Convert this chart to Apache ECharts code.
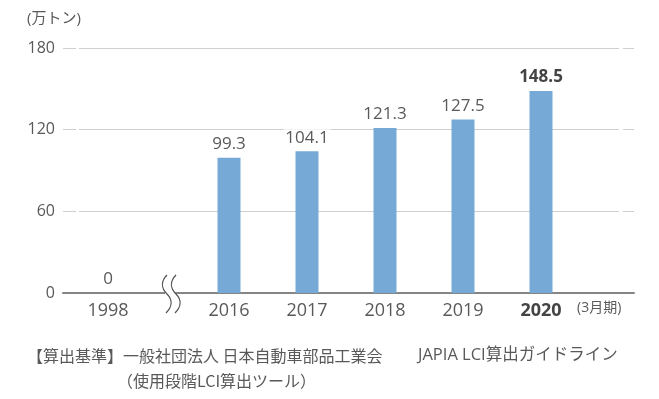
<!DOCTYPE html>
<html>
<head>
<meta charset="utf-8">
<script src="https://cdn.jsdelivr.net/npm/echarts@6/dist/echarts.min.js"></script>
<style>
  html, body { margin: 0; padding: 0; background: #fff; }
  #chart { width: 659px; height: 399px; }
</style>
</head>
<body>
<div id="chart"></div>
<script>
// Reference year (shown before the axis break)
const baseYears = ['1998'];
const baseValues = [0];
// Recent fiscal years
const years = ['2016', '2017', '2018', '2019', '2020'];
const values = [99.3, 104.1, 121.3, 127.5, 148.5];
const highlightYear = '2020';
// Value axis
const yMin = 0, yMax = 180, yStep = 60;
const unitLabel = '(万トン)';
const periodLabel = '(3月期)';
const noteSource = '【算出基準】一般社団法人 日本自動車部品工業会';
const noteGuide = 'JAPIA LCI算出ガイドライン';
const noteTool = '（使用段階LCI算出ツール）';

const FONT = '"Open Sans", "Noto Sans CJK JP", sans-serif';
const JFONT = '"Noto Sans CJK JP", sans-serif';
const TEXT = '#595959';
const STRONG = '#444';
const BAR = '#76a9d6';

const chart = echarts.init(document.getElementById('chart'), null, { renderer: 'canvas' });

const gridTop = 48, gridBottom = 106;
const hiddenY = (gi) => ({
  gridIndex: gi, type: 'value', min: yMin, max: yMax, interval: yStep,
  show: false
});
const labelStyle = {
  show: true, position: 'top', distance: 5, color: TEXT, fontSize: 17,
  fontFamily: FONT, backgroundColor: '#fff', padding: [0, 2]
};
const toItems = (cats, vals) => vals.map((v, i) => cats[i] === highlightYear
  ? { value: v, label: { fontWeight: 'bold', color: STRONG } }
  : v);
const toCats = (cats) => cats.map(c => c === highlightYear
  ? { value: c, textStyle: { fontWeight: 'bold', color: STRONG } }
  : c);
const catAxis = (gi, cats) => ({
  gridIndex: gi, type: 'category', data: toCats(cats),
  axisLine: { show: false }, axisTick: { show: false },
  axisLabel: { color: TEXT, fontSize: 18, fontFamily: FONT, margin: 9 }
});

// One wavy stroke of the axis-break symbol, starting at (x, y)
const breakStroke = (x, y) => ([
  {
    type: 'bezierCurve', z: 11,
    shape: { x1: x, y1: y, cpx1: x - 6, cpy1: y + 6, cpx2: x - 6, cpy2: y + 13, x2: x, y2: y + 19 },
    style: { stroke: '#555', lineWidth: 1.3, fill: null }
  },
  {
    type: 'bezierCurve', z: 11,
    shape: { x1: x, y1: y + 19, cpx1: x + 6, cpy1: y + 25, cpx2: x + 5, cpy2: y + 32, x2: x - 1, y2: y + 38 },
    style: { stroke: '#555', lineWidth: 1.3, fill: null }
  }
]);

chart.setOption({
  animation: false,
  grid: [
    { left: 63, right: 25, top: gridTop, bottom: gridBottom },
    { left: 63, width: 90, top: gridTop, bottom: gridBottom },
    { left: 190, width: 390, top: gridTop, bottom: gridBottom }
  ],
  xAxis: [
    {
      gridIndex: 0, type: 'category', data: [''],
      axisLine: { lineStyle: { color: '#858585', width: 2 } },
      axisTick: { show: false }, axisLabel: { show: false }
    },
    catAxis(1, baseYears),
    catAxis(2, years)
  ],
  yAxis: [
    {
      gridIndex: 0, type: 'value', min: yMin, max: yMax, interval: yStep,
      axisLine: { show: false }, axisTick: { show: false },
      axisLabel: { color: TEXT, fontSize: 16, fontFamily: FONT, margin: 8 },
      splitLine: { lineStyle: { color: '#cfcfcf', width: 1, type: [13, 3, 540, 4, 11, 20] } }
    },
    hiddenY(1),
    hiddenY(2)
  ],
  series: [
    {
      type: 'bar', xAxisIndex: 1, yAxisIndex: 1, barWidth: 23,
      itemStyle: { color: BAR }, label: labelStyle,
      data: toItems(baseYears, baseValues)
    },
    {
      type: 'bar', xAxisIndex: 2, yAxisIndex: 2, barWidth: 23,
      itemStyle: { color: BAR }, label: labelStyle,
      data: toItems(years, values)
    }
  ],
  graphic: [
    {
      type: 'text', left: 27, top: 11,
      style: { text: unitLabel, fill: TEXT, font: '15px ' + FONT }
    },
    {
      type: 'text', left: 577, top: 301,
      style: { text: periodLabel, fill: TEXT, font: '14px ' + FONT }
    },
    // axis break mark
    {
      type: 'rect', shape: { x: 165, y: 291, width: 10, height: 4 },
      style: { fill: '#fff' }, z: 10
    },
    ...breakStroke(167, 275),
    ...breakStroke(176, 275),
    {
      type: 'text', left: 27, top: 348,
      style: { text: noteSource, fill: TEXT, font: '16px ' + JFONT }
    },
    {
      type: 'text', left: 418, top: 347,
      style: { text: noteGuide, fill: TEXT, font: '16.5px ' + FONT }
    },
    {
      type: 'text', left: 117, top: 373,
      style: { text: noteTool, fill: TEXT, font: '16px ' + JFONT }
    }
  ]
});
</script>
</body>
</html>
